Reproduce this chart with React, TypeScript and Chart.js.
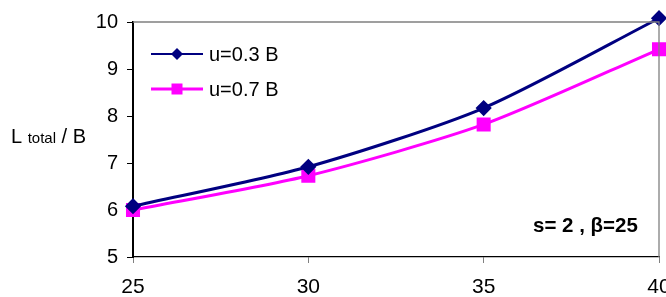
import React, { useEffect, useRef } from "react";
import { Chart, registerables } from "chart.js";

Chart.register(...registerables);

const xValues = [25, 30, 35, 40];
const seriesNames = ["u=0.3 B", "u=0.7 B"];
const series03 = [6.08, 6.92, 8.17, 10.08];
const series07 = [6.0, 6.73, 7.82, 9.42];
const yTicks = [5, 6, 7, 8, 9, 10];
const annotationText = "s= 2 , \u03b2=25";

const FONT = "'Liberation Sans', Arial, sans-serif";

const extrasPlugin = {
  id: "extras",
  afterDraw(chart: any) {
    const { ctx, chartArea } = chart;
    const { left, right, top, bottom } = chartArea;
    ctx.save();
    // top and right frame
    ctx.strokeStyle = "#808080";
    ctx.lineWidth = 1.3;
    ctx.beginPath();
    ctx.moveTo(left, top);
    ctx.lineTo(right, top);
    ctx.lineTo(right, bottom);
    ctx.stroke();

    // x tick labels through the x scale
    const xs = chart.scales.x;
    ctx.fillStyle = "#000";
    ctx.font = `21px ${FONT}`;
    ctx.textAlign = "center";
    ctx.textBaseline = "alphabetic";
    xValues.forEach((v) => {
      ctx.fillText(String(v), xs.getPixelForValue(v), 293);
    });

    // legend
    const datasets = chart.data.datasets;
    const rows = [54, 89];
    datasets.forEach((ds: any, i: number) => {
      const y = rows[i];
      ctx.strokeStyle = ds.borderColor;
      ctx.lineWidth = i === 0 ? 2 : 3;
      ctx.beginPath();
      ctx.moveTo(151, y);
      ctx.lineTo(203, y);
      ctx.stroke();
      ctx.fillStyle = ds.pointBackgroundColor;
      ctx.beginPath();
      if (ds.pointStyle === "rectRot") {
        const r = 6;
        ctx.moveTo(177, y - r);
        ctx.lineTo(177 + r, y);
        ctx.lineTo(177, y + r);
        ctx.lineTo(177 - r, y);
        ctx.closePath();
      } else {
        ctx.rect(177 - 5.5, y - 5.5, 11, 11);
      }
      ctx.fill();
      ctx.fillStyle = "#000";
      ctx.font = `20px ${FONT}`;
      ctx.textAlign = "left";
      ctx.textBaseline = "middle";
      ctx.fillText(ds.label, 209, y + 1);
    });

    // annotation
    ctx.font = `bold 20.5px ${FONT}`;
    ctx.textAlign = "left";
    ctx.textBaseline = "alphabetic";
    ctx.fillStyle = "#000";
    ctx.fillText(annotationText, 533, 232);

    // y axis title
    ctx.textBaseline = "alphabetic";
    ctx.font = `20px ${FONT}`;
    let x = 11;
    const by = 143;
    ctx.fillText("L", x, by);
    x += ctx.measureText("L ").width;
    ctx.font = `15px ${FONT}`;
    ctx.fillText("total", x, by);
    x += ctx.measureText("total").width;
    ctx.font = `20px ${FONT}`;
    ctx.fillText(" / B", x, by);
    ctx.restore();
  },
};

export default function App() {
  const ref = useRef<HTMLCanvasElement>(null);
  useEffect(() => {
    document.body.style.margin = "0";
    const chart = new Chart(ref.current!, {
      type: "line",
      data: {
        datasets: [
          {
            label: seriesNames[0],
            data: xValues.map((x, i) => ({ x, y: series03[i] })),
            borderColor: "#000080",
            backgroundColor: "#000080",
            pointBackgroundColor: "#000080",
            pointBorderColor: "#000080",
            pointStyle: "rectRot",
            pointRadius: 6,
            borderWidth: 3,
            tension: 0.25,
            fill: false,
            clip: false as any,
          },
          {
            label: seriesNames[1],
            data: xValues.map((x, i) => ({ x, y: series07[i] })),
            borderColor: "#FF00FF",
            backgroundColor: "#FF00FF",
            pointBackgroundColor: "#FF00FF",
            pointBorderColor: "#FF00FF",
            pointStyle: "rect",
            pointRadius: 7.8,
            borderWidth: 3,
            tension: 0.25,
            fill: false,
            clip: false as any,
          },
        ],
      },
      options: {
        responsive: false,
        animation: false,
        layout: { autoPadding: false, padding: { left: 0, right: 7, top: 22, bottom: 0 } },
        plugins: {
          legend: { display: false },
          tooltip: { enabled: false },
        },
        scales: {
          x: {
            type: "linear",
            min: 25,
            max: 40,
            afterBuildTicks: (s: any) => {
              s.ticks = xValues.map((v) => ({ value: v }));
            },
            afterFit: (s: any) => {
              s.height = 40;
              s.paddingLeft = 0;
              s.paddingRight = 0;
            },
            grid: {
              display: true,
              drawOnChartArea: false,
              drawTicks: true,
              tickLength: 6,
              color: "#808080",
            },
            border: { display: true, color: "#000", width: 1.3 },
            ticks: { display: false },
          },
          y: {
            type: "linear",
            min: 5,
            max: 10,
            afterBuildTicks: (s: any) => {
              s.ticks = yTicks.map((v) => ({ value: v }));
            },
            afterFit: (s: any) => {
              s.width = 133;
            },
            grid: {
              display: true,
              drawOnChartArea: false,
              drawTicks: true,
              tickLength: 6,
              color: "#000",
            },
            border: { display: true, color: "#000", width: 2 },
            ticks: {
              padding: 9,
              color: "#000",
              font: { family: FONT, size: 20 },
            },
          },
        },
      },
      plugins: [extrasPlugin],
    });
    return () => chart.destroy();
  }, []);
  return (
    <div style={{ position: "absolute", left: 0, top: 0, width: 666, height: 297, overflow: "hidden", background: "#fff" }}>
      <canvas ref={ref} width={666} height={297} style={{ width: 666, height: 297, display: "block" }} />
    </div>
  );
}
